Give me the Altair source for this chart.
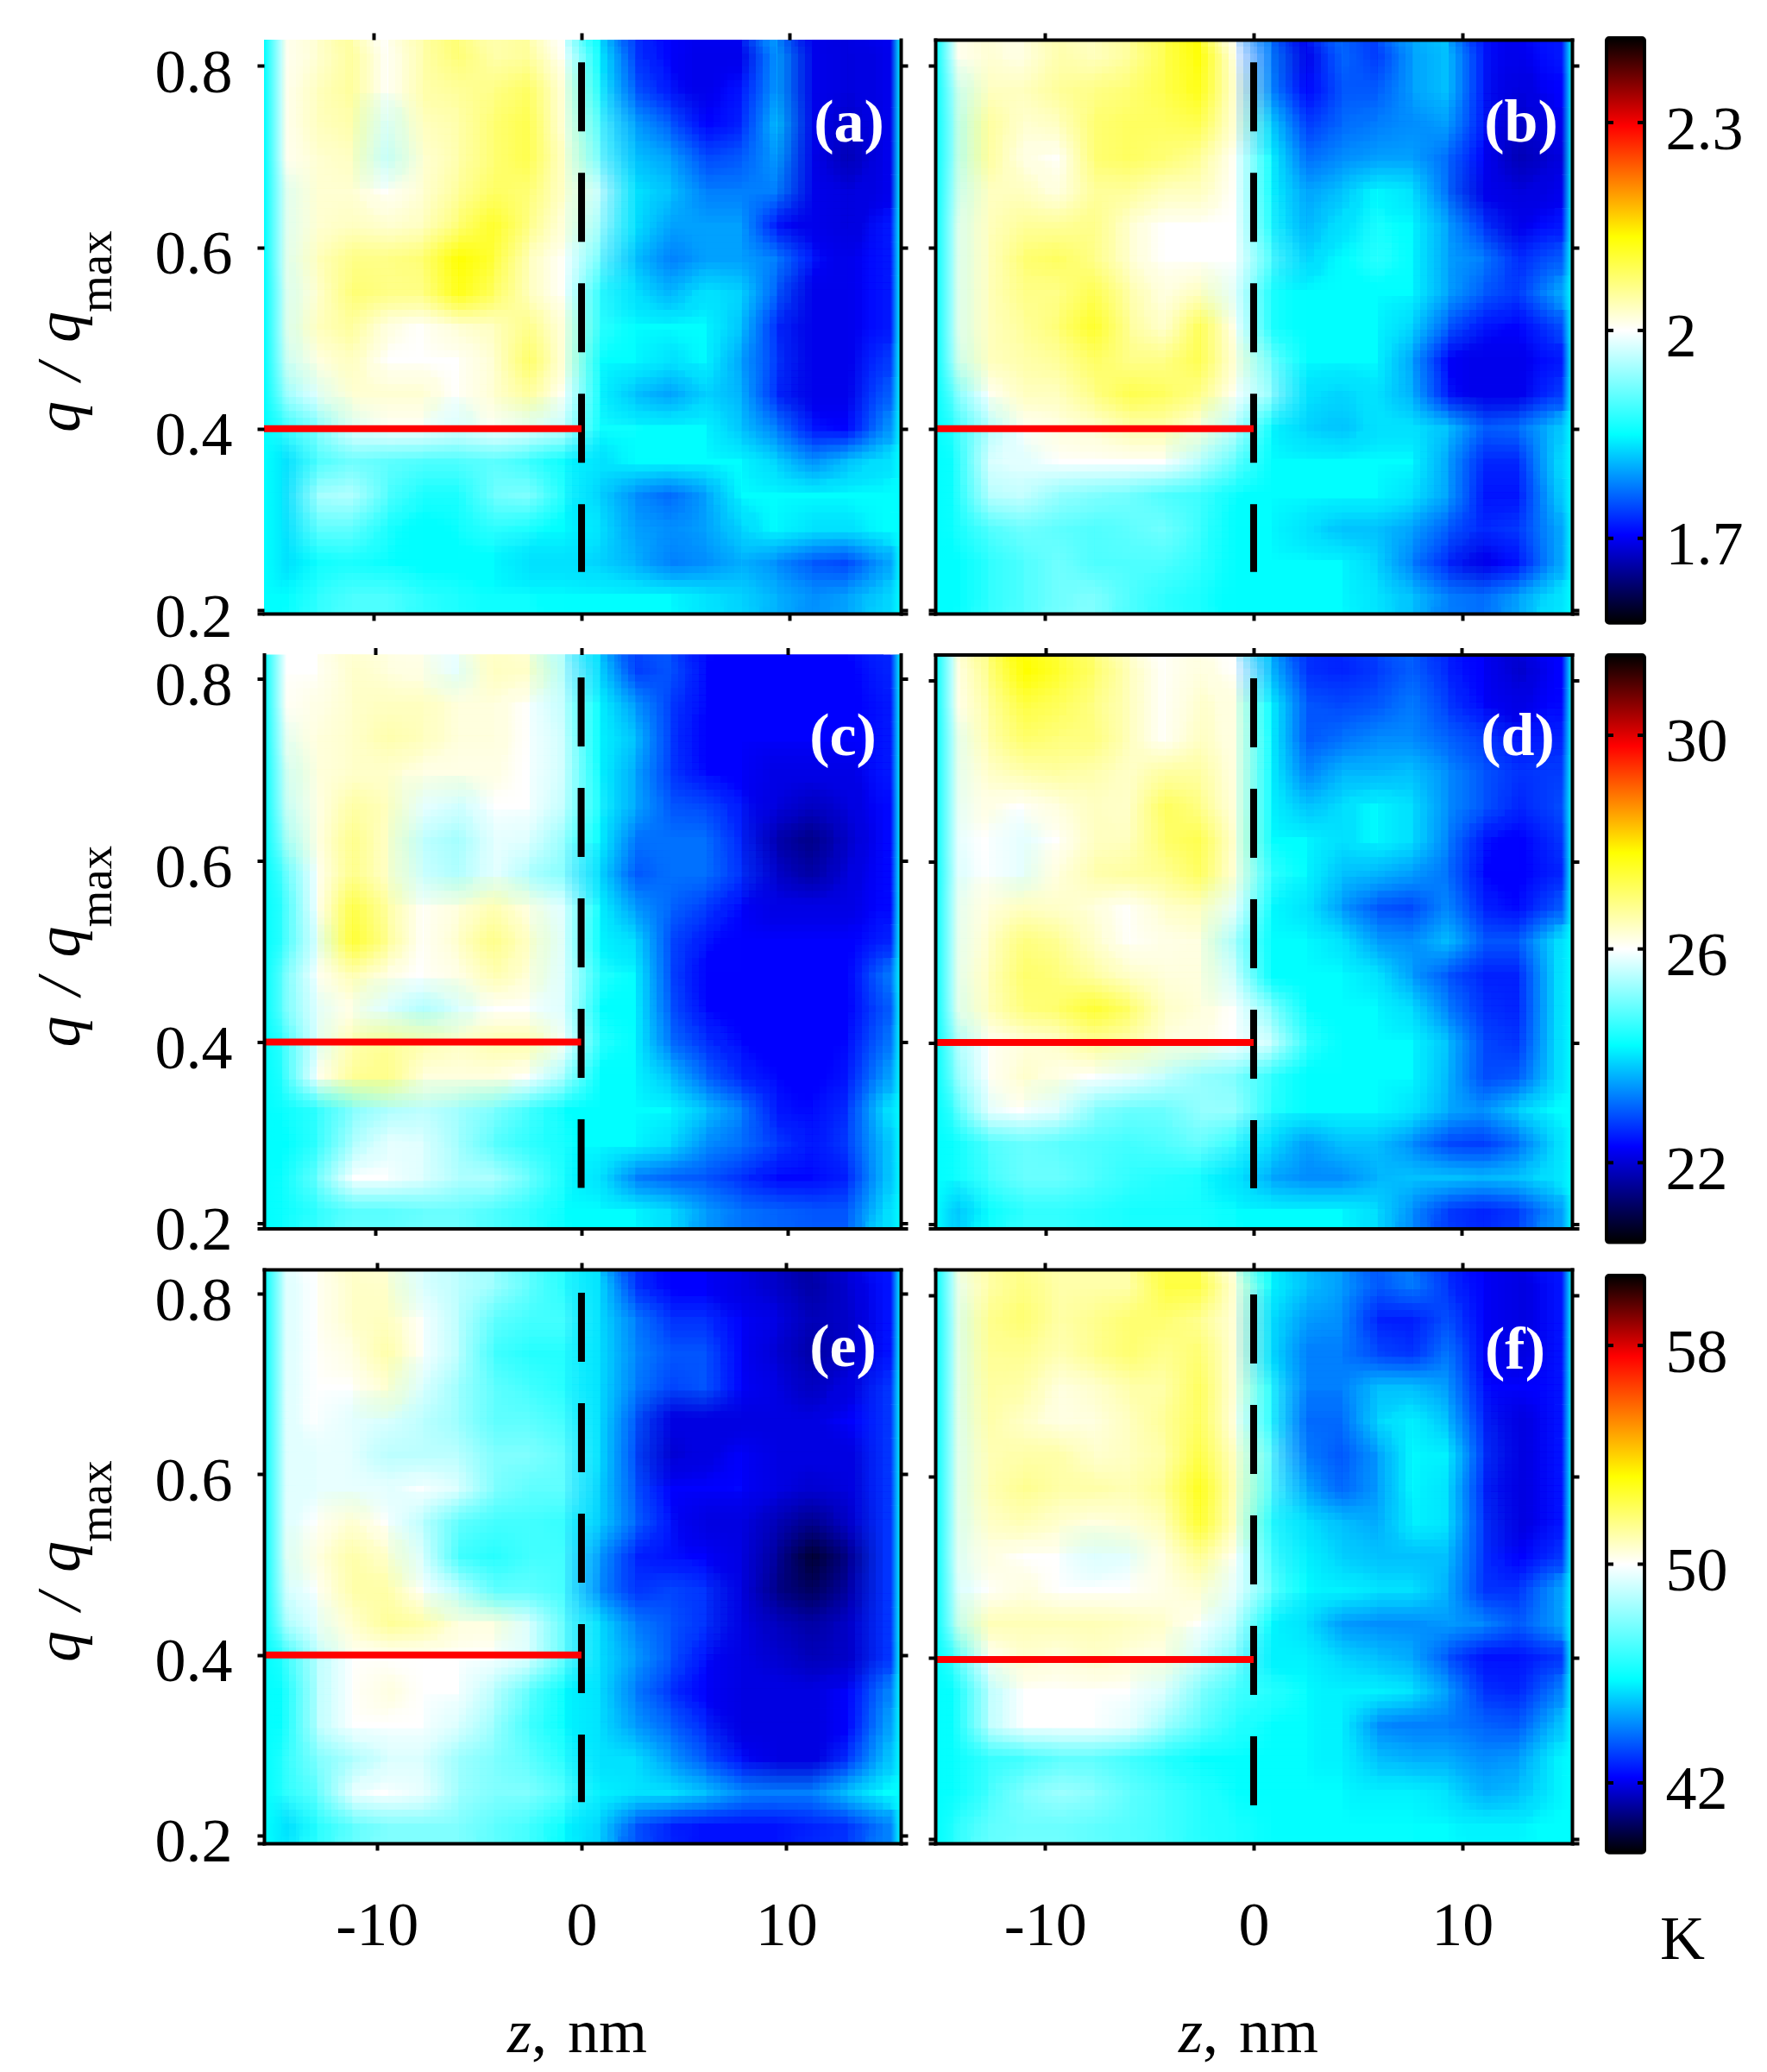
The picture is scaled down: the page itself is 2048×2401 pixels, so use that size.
import altair as alt
import numpy as np
import pandas as pd

W = 738
H = 665
FONT = "Liberation Serif"
RAMP = ["#000000", "#0000ff", "#00ffff", "#ffffff", "#ffff00", "#ff0000", "#000000"]

# colorbar stops (K): black, blue, cyan, white, yellow, red, black
stops_ab = [1.578, 1.705, 1.85, 2.0, 2.135, 2.295, 2.422]
stops_cd = [20.51, 22.3, 24.2, 26.0, 27.8, 29.8, 31.5]
stops_ef = [39.45, 42.2, 45.8, 50.0, 53.2, 57.6, 60.56]

ticks_ab = [1.7, 2, 2.3]
ticks_cd = [22, 26, 30]
ticks_ef = [42, 50, 58]

# rows run from the top of the panel (high q) down, columns from low z to high z
K_a = [
    [2.0, 2.02, 2.05, 2.0, 2.04, 2.07, 2.04, 2.05, 2.0, 1.85, 1.74, 1.71, 1.70, 1.70, 1.80, 1.70, 1.69, 1.70],
    [2.0, 2.03, 2.05, 2.0, 2.04, 2.05, 2.06, 2.08, 2.01, 1.87, 1.76, 1.72, 1.70, 1.72, 1.80, 1.70, 1.69, 1.70],
    [2.0, 2.03, 2.04, 1.98, 2.03, 2.04, 2.07, 2.09, 2.01, 1.90, 1.80, 1.76, 1.71, 1.73, 1.82, 1.70, 1.68, 1.70],
    [2.0, 2.02, 2.03, 1.97, 2.02, 2.04, 2.07, 2.09, 2.02, 1.92, 1.82, 1.80, 1.75, 1.76, 1.80, 1.70, 1.67, 1.70],
    [1.99, 2.02, 2.02, 2.0, 2.02, 2.05, 2.08, 2.07, 2.02, 1.97, 1.84, 1.82, 1.78, 1.78, 1.78, 1.70, 1.69, 1.70],
    [1.99, 2.02, 2.03, 2.02, 2.03, 2.07, 2.11, 2.06, 2.01, 1.95, 1.84, 1.80, 1.80, 1.80, 1.72, 1.70, 1.69, 1.72],
    [1.99, 2.03, 2.06, 2.06, 2.07, 2.13, 2.10, 2.03, 2.0, 1.92, 1.82, 1.78, 1.80, 1.80, 1.78, 1.72, 1.70, 1.72],
    [1.98, 2.02, 2.07, 2.06, 2.06, 2.12, 2.08, 2.03, 2.0, 1.88, 1.84, 1.81, 1.84, 1.83, 1.76, 1.70, 1.70, 1.72],
    [1.98, 2.03, 2.05, 2.01, 2.0, 2.02, 2.03, 2.06, 2.01, 1.88, 1.85, 1.85, 1.85, 1.82, 1.73, 1.70, 1.70, 1.72],
    [1.97, 2.01, 2.03, 2.0, 2.0, 2.0, 2.02, 2.08, 2.01, 1.86, 1.85, 1.84, 1.85, 1.80, 1.74, 1.70, 1.70, 1.74],
    [1.94, 1.99, 2.02, 2.02, 2.02, 2.0, 2.02, 2.05, 2.0, 1.86, 1.82, 1.80, 1.83, 1.81, 1.73, 1.70, 1.70, 1.76],
    [1.88, 1.93, 1.99, 2.0, 2.0, 1.98, 2.0, 1.99, 1.97, 1.86, 1.86, 1.85, 1.85, 1.82, 1.78, 1.72, 1.71, 1.79],
    [1.84, 1.90, 1.92, 1.91, 1.90, 1.90, 1.91, 1.89, 1.86, 1.84, 1.85, 1.85, 1.85, 1.85, 1.83, 1.79, 1.82, 1.84],
    [1.84, 1.95, 1.96, 1.90, 1.87, 1.87, 1.92, 1.93, 1.87, 1.83, 1.79, 1.77, 1.80, 1.85, 1.85, 1.85, 1.85, 1.85],
    [1.84, 1.91, 1.91, 1.87, 1.85, 1.86, 1.88, 1.87, 1.85, 1.84, 1.80, 1.79, 1.80, 1.83, 1.85, 1.84, 1.84, 1.85],
    [1.84, 1.86, 1.87, 1.86, 1.85, 1.85, 1.85, 1.84, 1.84, 1.83, 1.81, 1.78, 1.79, 1.81, 1.79, 1.76, 1.75, 1.80],
    [1.85, 1.88, 1.90, 1.90, 1.88, 1.87, 1.86, 1.86, 1.85, 1.85, 1.85, 1.85, 1.84, 1.83, 1.81, 1.79, 1.80, 1.83],
]
K_b = [
    [2.0, 2.02, 2.01, 2.04, 2.03, 2.05, 2.09, 2.13, 2.0, 1.78, 1.70, 1.77, 1.74, 1.80, 1.82, 1.72, 1.70, 1.72],
    [1.97, 2.03, 2.03, 2.05, 2.06, 2.07, 2.09, 2.12, 2.01, 1.79, 1.71, 1.76, 1.76, 1.80, 1.82, 1.72, 1.69, 1.71],
    [1.96, 2.05, 2.02, 2.03, 2.07, 2.08, 2.08, 2.09, 2.01, 1.83, 1.74, 1.77, 1.78, 1.79, 1.80, 1.72, 1.68, 1.70],
    [1.96, 2.05, 2.01, 2.0, 2.07, 2.08, 2.07, 2.05, 2.0, 1.86, 1.77, 1.79, 1.80, 1.80, 1.77, 1.71, 1.67, 1.69],
    [1.97, 2.03, 2.03, 2.01, 2.05, 2.05, 2.03, 2.03, 2.0, 1.86, 1.80, 1.82, 1.85, 1.84, 1.77, 1.70, 1.69, 1.70],
    [1.98, 2.03, 2.05, 2.05, 2.06, 2.02, 2.0, 2.0, 2.0, 1.87, 1.81, 1.84, 1.87, 1.85, 1.80, 1.74, 1.70, 1.72],
    [1.98, 2.03, 2.07, 2.08, 2.06, 2.02, 2.0, 2.0, 2.0, 1.90, 1.83, 1.85, 1.88, 1.85, 1.80, 1.78, 1.73, 1.76],
    [1.98, 2.03, 2.06, 2.06, 2.09, 2.04, 2.01, 2.03, 1.99, 1.87, 1.85, 1.85, 1.85, 1.85, 1.80, 1.76, 1.74, 1.80],
    [1.98, 2.03, 2.05, 2.07, 2.11, 2.05, 2.02, 2.09, 2.0, 1.87, 1.85, 1.85, 1.85, 1.83, 1.76, 1.72, 1.71, 1.75],
    [1.97, 2.03, 2.04, 2.05, 2.08, 2.06, 2.06, 2.09, 2.01, 1.92, 1.85, 1.85, 1.85, 1.80, 1.71, 1.70, 1.70, 1.72],
    [1.92, 2.0, 2.03, 2.03, 2.06, 2.09, 2.08, 2.06, 2.0, 1.94, 1.84, 1.83, 1.84, 1.81, 1.72, 1.70, 1.70, 1.74],
    [1.88, 1.96, 2.0, 2.01, 2.02, 2.04, 2.04, 2.01, 1.96, 1.86, 1.83, 1.82, 1.84, 1.84, 1.82, 1.76, 1.77, 1.82],
    [1.86, 1.98, 1.99, 2.0, 2.0, 2.0, 2.0, 1.96, 1.91, 1.85, 1.85, 1.85, 1.85, 1.85, 1.80, 1.73, 1.73, 1.83],
    [1.86, 1.96, 1.97, 1.94, 1.93, 1.92, 1.90, 1.89, 1.86, 1.85, 1.85, 1.85, 1.85, 1.84, 1.80, 1.72, 1.72, 1.82],
    [1.86, 1.90, 1.92, 1.91, 1.90, 1.91, 1.92, 1.89, 1.85, 1.85, 1.84, 1.82, 1.82, 1.80, 1.76, 1.73, 1.74, 1.80],
    [1.85, 1.88, 1.90, 1.92, 1.90, 1.90, 1.90, 1.88, 1.85, 1.85, 1.85, 1.85, 1.83, 1.78, 1.73, 1.70, 1.72, 1.80],
    [1.85, 1.88, 1.90, 1.92, 1.93, 1.90, 1.88, 1.87, 1.85, 1.85, 1.85, 1.85, 1.84, 1.82, 1.78, 1.77, 1.80, 1.84],
]
K_c = [
    [26, 26, 26.3, 26.2, 26.1, 25.9, 26.4, 26.3, 25.5, 24, 22.8, 23, 22.4, 22.3, 22.3, 22.3, 22.3, 22.6],
    [26, 26.1, 26.3, 26.4, 26.4, 26.2, 26.2, 26, 25.6, 24.2, 23.5, 22.8, 22.4, 22.3, 22.3, 22.3, 22.3, 22.5],
    [25.9, 26.2, 26.3, 26.5, 26.4, 26.2, 26.2, 26, 25.7, 24.2, 23.8, 22.8, 22.3, 22.3, 22.3, 22.3, 22.3, 22.5],
    [25.7, 26.2, 26.3, 26.3, 26.1, 26.1, 26.1, 26, 25.7, 24.3, 23.6, 22.8, 22.4, 22.3, 22.2, 22.2, 22.2, 22.5],
    [25.6, 26.1, 26.6, 26.4, 25.9, 25.7, 26, 26, 25.6, 24.4, 23.6, 23, 22.9, 22.5, 22.1, 21.9, 22.1, 22.4],
    [25.3, 26.1, 26.8, 26.3, 25.6, 25.4, 25.9, 25.8, 25.3, 24.2, 23.2, 23.2, 23.2, 22.6, 21.8, 21.5, 22, 22.4],
    [24.8, 26, 26.8, 26.3, 25.7, 25.5, 25.9, 25.5, 25.2, 24, 23, 23.2, 23.2, 22.7, 22, 21.7, 22.1, 22.4],
    [24.6, 26, 27.3, 26.6, 26, 26.2, 26.5, 26.1, 25.8, 24.3, 23.5, 23.1, 22.8, 22.4, 22.2, 22.2, 22.2, 22.4],
    [24.6, 25.9, 27.4, 26.7, 26, 26.3, 26.8, 26.3, 25.8, 24.2, 24, 22.9, 22.5, 22.3, 22.3, 22.3, 22.3, 22.6],
    [25, 26, 26.5, 26.1, 26, 26.1, 26.5, 26.2, 25.8, 24.5, 24.2, 22.9, 22.3, 22.3, 22.3, 22.3, 22.3, 23.2],
    [25, 25.9, 26.1, 25.8, 25.5, 25.8, 26, 26, 25.8, 24.3, 24.2, 23, 22.4, 22.3, 22.3, 22.3, 22.3, 23],
    [24.6, 25.9, 26.5, 26.7, 26.5, 26.3, 26.5, 26.5, 26, 24.5, 24.2, 23.2, 22.7, 22.4, 22.3, 22.3, 22.4, 23.2],
    [24.5, 26, 26.7, 26.8, 26.2, 26.2, 26.2, 26, 25.4, 24.2, 24.2, 23.8, 23.1, 22.6, 22.4, 22.3, 22.5, 23.5],
    [24.3, 24.6, 25.2, 25.5, 25.6, 25.4, 25.1, 24.7, 24.3, 24.2, 24.2, 24.2, 23.8, 23.3, 22.5, 22.4, 22.7, 24],
    [24.2, 24.6, 25.5, 25.9, 25.8, 25.4, 24.9, 24.6, 24.4, 24.2, 24.2, 24, 23.4, 23.2, 22.8, 22.5, 22.8, 23.8],
    [24.3, 25, 26, 26, 25.8, 25.5, 25.5, 25, 24.4, 24.1, 23.3, 23.1, 23, 22.7, 22.4, 22.4, 22.6, 23.8],
    [24.3, 24.6, 24.9, 24.9, 25, 25, 24.8, 24.6, 24.3, 24.2, 24.2, 24, 23.5, 23.2, 23.1, 23, 23, 24],
]
K_d = [
    [26, 26.8, 27.8, 27.4, 27, 26.4, 26, 26.2, 26, 23.8, 22.7, 22.6, 22.8, 23.1, 22.6, 22.3, 22, 22.3],
    [26, 26.6, 27.3, 27.1, 26.8, 26.4, 26, 26.3, 26.1, 24.2, 23, 22.9, 23, 23.3, 22.8, 22.4, 22.2, 22.4],
    [25.9, 26.5, 27, 26.9, 26.9, 26.4, 26, 26.4, 26.1, 24.3, 23, 23.2, 23.4, 23.4, 23.1, 22.8, 22.5, 22.6],
    [25.9, 26.3, 26.5, 26.6, 26.5, 26.3, 26.6, 26.6, 26.1, 24.3, 23.3, 23.7, 23.7, 23.8, 23.4, 23, 22.7, 22.8],
    [25.9, 26.1, 26, 26.2, 26.4, 26.3, 27.1, 26.8, 26.1, 24.3, 23.8, 24, 24.2, 24, 23.4, 23, 22.6, 22.9],
    [25.9, 26, 25.9, 26, 26.4, 26.4, 27, 27.2, 26.2, 24.3, 24.2, 24, 24.2, 24, 23.3, 22.5, 22.3, 22.7],
    [25.8, 26, 25.9, 26.2, 26.5, 26.6, 26.7, 27.1, 26.1, 24.6, 24.2, 23.8, 23.7, 23.5, 23.2, 22.4, 22.3, 22.6],
    [25.9, 26.2, 26.4, 26.3, 26.2, 26, 26.3, 26.4, 25.9, 24.3, 24.1, 23.5, 23, 22.9, 23.4, 22.6, 22.4, 23],
    [25.9, 26.3, 26.9, 26.7, 26.3, 26, 26.1, 26.2, 25.4, 24.2, 24.2, 24.1, 23.5, 23.4, 23.8, 23, 23, 24],
    [25.9, 26.4, 27, 26.9, 26.6, 26.3, 26.2, 26.2, 25.7, 24.2, 24.2, 24.2, 24.1, 23.5, 23, 22.6, 22.6, 24],
    [25.8, 26.4, 26.9, 27, 27.4, 27, 26.3, 26.2, 26, 25.2, 24.3, 24.2, 24.2, 24, 23.3, 22.7, 22.6, 24],
    [25.4, 26, 26.2, 26.3, 26.7, 26.5, 26.2, 26.1, 26, 25.7, 24.6, 24.2, 24.2, 24.2, 23.8, 22.9, 22.7, 24],
    [25.2, 26, 26.3, 26.1, 26, 25.9, 25.6, 25.3, 25.1, 24.6, 24.2, 24.2, 24.2, 24.2, 23.7, 22.9, 23, 24],
    [24.7, 25.9, 26, 25.8, 25.2, 25, 25, 25.3, 25.3, 24.5, 24.2, 24.2, 24.2, 24.1, 23.6, 23.4, 23.9, 24.2],
    [24.3, 24.8, 25, 24.9, 24.8, 24.7, 24.8, 25, 24.6, 24, 23.5, 23.8, 23.8, 23.4, 22.9, 22.8, 23.2, 24],
    [24.3, 24.7, 25, 25, 24.8, 24.6, 24.5, 24.4, 24.1, 23.6, 23.4, 23.4, 23.7, 23.8, 23.8, 23.7, 23.8, 24.1],
    [23.8, 24.3, 24.6, 24.6, 24.5, 24.4, 24.4, 24.4, 24.3, 24.2, 24.2, 24.2, 24, 23.4, 22.8, 22.6, 22.8, 23.5],
]
K_e = [
    [49.5, 50, 50.6, 50.5, 49.5, 49, 48.5, 47.5, 46.5, 45.5, 43, 42.3, 42.2, 42, 41.7, 41.3, 41.8, 42.5],
    [49.5, 50, 50.6, 50.7, 50, 49, 47.5, 47, 47, 45.5, 44, 43, 43, 42.2, 42, 41.5, 41.7, 42.5],
    [49.5, 50, 50.2, 51, 50, 49, 47, 46.5, 46.5, 45.5, 44.2, 43.5, 43.5, 42.2, 41.8, 41.3, 41.7, 42.5],
    [49.5, 50, 50, 50.5, 49.5, 48.5, 47.5, 47, 46.5, 45.5, 44, 43.2, 43.5, 42.3, 42, 41.6, 42, 43],
    [49.5, 50, 49.7, 49.5, 49, 48.5, 47.5, 47.5, 47, 45.5, 43.5, 42, 42, 42, 42, 42, 42.2, 43],
    [49.5, 49.8, 49.7, 49, 49, 49, 48, 48, 47.5, 45.5, 43.3, 41.8, 42, 42.2, 42, 42, 42, 43],
    [49.5, 49.8, 49.8, 49.7, 50, 49.5, 48, 47.5, 47.5, 45.3, 43.5, 42.3, 42.3, 42.4, 42, 41.8, 41.9, 43],
    [49.5, 50, 50.5, 50, 49, 47.5, 47, 47, 46.8, 45.2, 43.7, 42.5, 42, 42, 41.5, 41, 41.7, 43],
    [49.5, 50.2, 51, 50.5, 49.5, 47, 46.5, 47, 47, 44.5, 42.8, 42.5, 42.3, 42, 41.2, 40, 41, 43],
    [49.3, 50, 51, 51, 50, 49, 47.5, 47.5, 47, 44.3, 43, 43.3, 43, 42, 41, 40.5, 41.3, 43],
    [48.5, 49.8, 50.5, 51.2, 51, 50.3, 50.2, 49.5, 47.5, 45.5, 44, 43.5, 43, 42, 41.6, 41.3, 41.7, 43],
    [46.5, 49, 50, 50, 50, 50, 50, 49.5, 47.5, 45.5, 44.5, 43.5, 42.5, 42, 41.8, 41.5, 41.7, 43],
    [46, 49, 50, 50.2, 50, 50, 49, 47.5, 46, 45.5, 44, 43, 42.2, 42, 42, 42, 42.2, 44],
    [46, 49, 50, 50, 50, 49.5, 48.5, 47, 46, 45.5, 44.5, 43.7, 42.8, 42, 42, 42, 42.2, 44.5],
    [46.5, 48, 48.8, 49.5, 49.5, 48.5, 48, 47.5, 46.5, 45.5, 45.5, 44.5, 43.5, 42.5, 42, 42, 43, 45],
    [46.5, 47.5, 49.8, 50, 49.8, 48.5, 48, 48, 47.2, 45.7, 45.5, 45.5, 45, 44.2, 44, 44, 45, 46],
    [45.5, 46.5, 47.5, 48, 48, 48, 47.5, 47, 46, 45.3, 43.5, 42.8, 42.5, 42.5, 42.5, 42.8, 43, 44],
]
K_f = [
    [49.8, 51, 51.5, 51, 51, 51, 52.3, 52.3, 50.3, 46, 45, 44.5, 43.5, 44, 43, 42.2, 42, 42.5],
    [49.5, 51.3, 51.7, 51, 51.3, 51.7, 51.7, 51.3, 50.3, 45.5, 44.5, 44.3, 42.8, 42.7, 43.5, 42.2, 42, 42.5],
    [49.5, 51.2, 51.3, 50.8, 51.3, 51.7, 51.3, 51.7, 50.3, 45.5, 44, 44, 43.3, 43, 44, 42.2, 42, 42.5],
    [49.5, 51.1, 51, 50.3, 50.5, 51, 51, 52, 50.2, 46.5, 44, 44, 45, 45, 44.5, 42.5, 42.2, 42.5],
    [49.5, 51, 50.6, 50.2, 50.3, 50.7, 51.2, 52, 50.1, 46.5, 43.8, 43.8, 45.3, 45.7, 45, 42.8, 42, 42.5],
    [49.5, 50.8, 51, 51, 50.5, 50.7, 51, 52.3, 50.5, 47.5, 44, 43.5, 44.5, 46, 45.7, 43, 42, 42.5],
    [49.5, 50.8, 51.3, 51, 51, 50.8, 51.3, 52.8, 50.6, 47.3, 44.7, 43.7, 44.5, 46, 45.5, 42.8, 42, 42.5],
    [49.5, 50.6, 50.8, 50.5, 50.3, 50.4, 50.8, 52.6, 50.5, 46.5, 45.5, 45, 44.7, 45.7, 45.5, 43, 42, 42.5],
    [49.6, 50.2, 50, 50, 49.5, 49.8, 50.3, 51.3, 50, 47, 45.7, 45.2, 45, 45, 45, 43, 42.2, 43],
    [49.4, 50, 50.3, 50, 50, 50, 50.2, 50.5, 49.8, 47.5, 45.8, 45.7, 45.5, 45.5, 44.8, 43, 43, 44.5],
    [49, 50.8, 50.8, 50.8, 50.8, 50.7, 50.5, 50, 49, 46, 45.5, 44.5, 44.3, 44.3, 44.5, 44.2, 43.5, 44.5],
    [47, 50, 50.5, 50.3, 50.6, 50.3, 50.2, 49.3, 48, 45.7, 45.7, 45.3, 45, 44.7, 43.5, 42.5, 42.5, 43],
    [46, 49, 50, 50, 50, 50, 49.5, 48, 47, 46.5, 46, 45.7, 45.7, 45.5, 44.5, 43, 42.8, 44],
    [46, 49, 50, 50, 50, 49.8, 48.5, 47.5, 46.5, 46, 46, 45.7, 44.3, 44, 44, 43.7, 43.5, 45],
    [46, 46.8, 47, 47.5, 47.5, 47, 46.5, 46, 46, 46, 46, 45.7, 45, 44.8, 44.8, 44.3, 44.5, 45.7],
    [46, 47, 48, 48.5, 48.2, 47.5, 47, 46.5, 46, 46, 46, 46, 45.7, 45.7, 45.5, 44.8, 45, 45.7],
    [46.5, 47.5, 47.7, 47.7, 47.5, 47.3, 47, 46.5, 46.3, 46, 46, 46, 46, 46, 45.8, 45.7, 45.7, 45.8],
]

# axis limits of each panel
zlims = {"a": (-15.27, 15.35), "b": (-15.27, 15.27), "c": (-15.38, 15.5),
         "d": (-15.28, 15.28), "e": (-15.51, 15.6), "f": (-15.27, 15.27)}
qlims = {"a": (0.1962, 0.829), "b": (0.1962, 0.829), "c": (0.1944, 0.8271),
         "d": (0.1948, 0.8281), "e": (0.1914, 0.8268), "f": (0.1952, 0.8286)}

# red line height and ends of the dashed line
red_q = {"a": 0.4, "b": 0.4, "c": 0.4, "d": 0.4, "e": 0.4, "f": 0.398}
dash_q = {"a": (0.242, 0.804), "b": (0.242, 0.804), "c": (0.239, 0.802),
          "d": (0.239, 0.802), "e": (0.237, 0.801), "f": (0.237, 0.801)}

label_x = {"a": 678, "b": 679, "c": 671, "d": 675, "e": 671, "f": 672}
label_y = {"a": 118, "b": 118, "c": 116, "d": 116, "e": 112, "f": 115}

# (left, top) frame lines are missing on some panels
frame = {"a": (False, False), "b": (True, True), "c": (True, False),
         "d": (True, True), "e": (True, True), "f": (True, True)}

# shifts of the translucent copies of the grid, they soften the cell edges
shifts_x = [-20, -12, -4, 4, 12, 20]
shifts_y = [-16, -8, 0, 8, 16]

one = pd.DataFrame({"n": [0]})


def cells(values, zlim, qlim):
    rows = np.array(values)
    z_edges = np.linspace(zlim[0], zlim[1], rows.shape[1] + 1)
    q_edges = np.linspace(qlim[1], qlim[0], rows.shape[0] + 1)
    out = []
    for i in range(rows.shape[0]):
        for j in range(rows.shape[1]):
            out.append({"z0": z_edges[j], "z1": z_edges[j + 1],
                        "q0": q_edges[i], "q1": q_edges[i + 1], "K": rows[i, j]})
    return pd.DataFrame(out)


def note(text, x, y, size=72, style="normal", weight="normal", color="black",
         angle=0, align="left"):
    return alt.Chart(one).mark_text(
        text=text, font=FONT, fontSize=size, fontStyle=style, fontWeight=weight,
        color=color, angle=angle, align=align, baseline="alphabetic"
    ).encode(x=alt.value(x), y=alt.value(y))


def panel(key, values, stops, left_col, bottom_row):
    zlim, qlim = zlims[key], qlims[key]
    xs = alt.Scale(domain=list(zlim), nice=False, zero=False)
    ys = alt.Scale(domain=list(qlim), nice=False, zero=False)
    show_left, show_top = frame[key]

    grid = alt.Chart(cells(values, zlim, qlim)).encode(
        x=alt.X("z0:Q", scale=xs, axis=None), x2="z1:Q",
        y=alt.Y("q0:Q", scale=ys, axis=None), y2="q1:Q",
        color=alt.Color("K:Q", legend=None,
                        scale=alt.Scale(domain=stops, range=RAMP, interpolate="rgb")),
    )
    layers = [grid.mark_rect(clip=True, strokeWidth=0)]
    k = 1
    for dx in shifts_x:
        for dy in shifts_y:
            k += 1
            layers.append(grid.mark_rect(clip=True, strokeWidth=0, opacity=1 / k,
                                         xOffset=dx, x2Offset=dx, yOffset=dy, y2Offset=dy))

    # narrow cyan rims at both sides of the picture
    rims = pd.DataFrame({"z0": [zlim[0], zlim[1] - 0.5], "z1": [zlim[0] + 1.1, zlim[1]],
                         "side": ["l", "r"]})
    for side, a, b in [("l", 1, 0), ("r", 0, 1)]:
        fill = alt.LinearGradient(
            gradient="linear", x1=0, x2=1, y1=0, y2=0,
            stops=[alt.GradientStop(color=f"rgba(0,255,255,{a})", offset=0),
                   alt.GradientStop(color=f"rgba(0,255,255,{b})", offset=1)])
        layers.append(
            alt.Chart(rims[rims.side == side]).mark_rect(fill=fill, strokeWidth=0).encode(
                x=alt.X("z0:Q", scale=xs, axis=None), x2="z1:Q",
                y=alt.value(0), y2=alt.value(H))
        )

    dash = pd.DataFrame({"z": [0], "q0": [dash_q[key][0]], "q1": [dash_q[key][1]]})
    layers.append(alt.Chart(dash).mark_rule(color="black", strokeWidth=8, strokeDash=[80, 48]).encode(
        x=alt.X("z:Q", scale=xs, axis=None), y=alt.Y("q1:Q", scale=ys, axis=None), y2="q0:Q"))

    red = pd.DataFrame({"z0": [zlim[0]], "z1": [0], "q": [red_q[key]]})
    layers.append(alt.Chart(red).mark_rule(color="#ff0000", strokeWidth=8).encode(
        x=alt.X("z0:Q", scale=xs, axis=None), x2="z1:Q", y=alt.Y("q:Q", scale=ys, axis=None)))

    layers.append(note(f"({key})", label_x[key], label_y[key], size=70, weight="bold",
                       color="white", align="center"))

    q_values = [qlim[0], 0.2, 0.4, 0.6, 0.8]
    z_values = [-10, 0, 10]
    common = dict(title=None, grid=False, tickSize=8, tickWidth=4, tickColor="black",
                  domainColor="black", domainWidth=4, domainCap="square", zindex=1,
                  labelFont=FONT, labelFontSize=72, labelColor="black",
                  labelOverlap=False, labelFlush=False, labelBound=False)
    bottom = alt.Axis(orient="bottom", values=z_values, labels=bottom_row, labelPadding=52,
                      labelExpr="datum.value < 0 ? datum.value + '\u00a0\u200a' : '' + datum.value", **common)
    left = alt.Axis(orient="left", values=q_values, labels=left_col, labelPadding=29, labelOffset=8,
                    domain=show_left,
                    labelExpr="datum.value > 0.199 ? format(datum.value, '.1f') : ''", **common)
    top = alt.Axis(orient="top", values=z_values, labels=False, domain=show_top, **common)
    right = alt.Axis(orient="right", values=q_values, labels=False, **common)
    marks = pd.DataFrame({"z": [0], "q": [0.4]})
    layers.append(alt.Chart(marks).mark_point(opacity=0).encode(
        x=alt.X("z:Q", scale=xs, axis=bottom), y=alt.Y("q:Q", scale=ys, axis=left)))
    layers.append(alt.Chart(marks).mark_point(opacity=0).encode(
        x=alt.X("z:Q", scale=xs, axis=top), y=alt.Y("q:Q", scale=ys, axis=right)))

    if left_col:
        layers.append(note("q \u200a/\u200a q", -214, 455, style="italic", angle=270))
        layers.append(note("max", -177, 316, size=55, angle=270))
    if bottom_row:
        off = 282
        layers.append(note("z", off, 907, style="italic"))
        layers.append(note(", \u200anm", off + 28, 907))

    return alt.layer(*layers).resolve_axis(x="independent", y="independent").properties(width=W, height=H)


def colorbar(stops, ticks, k_top, k_bottom, unit=False):
    ys = alt.Scale(domain=[k_bottom, k_top], nice=False, zero=False)
    span = stops[-1] - stops[0]
    fill = alt.LinearGradient(
        gradient="linear", x1=0, x2=0, y1=1, y2=0,
        stops=[alt.GradientStop(color=c, offset=(s - stops[0]) / span) for s, c in zip(stops, RAMP)])
    bar = pd.DataFrame({"k0": [stops[0]], "k1": [stops[-1]]})
    tick_df = pd.DataFrame({"k": ticks})
    layers = [
        alt.Chart(bar).mark_rect(fill=fill, stroke="black", strokeWidth=4, cornerRadius=3).encode(
            x=alt.value(0), x2=alt.value(44),
            y=alt.Y("k0:Q", scale=ys, axis=None), y2="k1:Q"),
        alt.Chart(tick_df).mark_rule(color="black", strokeWidth=4).encode(
            x=alt.value(0), x2=alt.value(8),
            y=alt.Y("k:Q", scale=ys, axis=None)),
        alt.Chart(tick_df).mark_rule(color="black", strokeWidth=4).encode(
            x=alt.value(36), x2=alt.value(44),
            y=alt.Y("k:Q", scale=ys, axis=alt.Axis(
                orient="right", values=ticks, title=None, grid=False, ticks=False, domain=False,
                labelFont=FONT, labelFontSize=72, labelColor="black", labelPadding=24,
                labelOffset=8, labelOverlap=False, labelFlush=False, labelBound=False,
                labelExpr="'' + datum.value"))),
    ]
    if unit:
        layers.append(note("K", 62, 799))
    return alt.layer(*layers).resolve_axis(y="independent").properties(width=44, height=H)


charts = [
    panel("a", K_a, stops_ab, True, False), panel("b", K_b, stops_ab, False, False),
    colorbar(stops_ab, ticks_ab, 2.4196, 1.5914),
    panel("c", K_c, stops_cd, True, False), panel("d", K_d, stops_cd, False, False),
    colorbar(stops_cd, ticks_cd, 31.51, 20.77),
    panel("e", K_e, stops_ef, True, True), panel("f", K_f, stops_ef, False, True),
    colorbar(stops_ef, ticks_ef, 60.78, 39.79, unit=True),
]

chart = alt.concat(
    *charts, columns=3, spacing={"row": 47.5, "column": 40}, bounds="flush", align="each"
).resolve_scale(
    color="independent"
).properties(
    padding={"left": 26, "top": 28, "right": 5, "bottom": 5}, background="white"
).configure_view(stroke=None)

chart.save("out.html", embed_options={"renderer": "svg", "actions": False})
